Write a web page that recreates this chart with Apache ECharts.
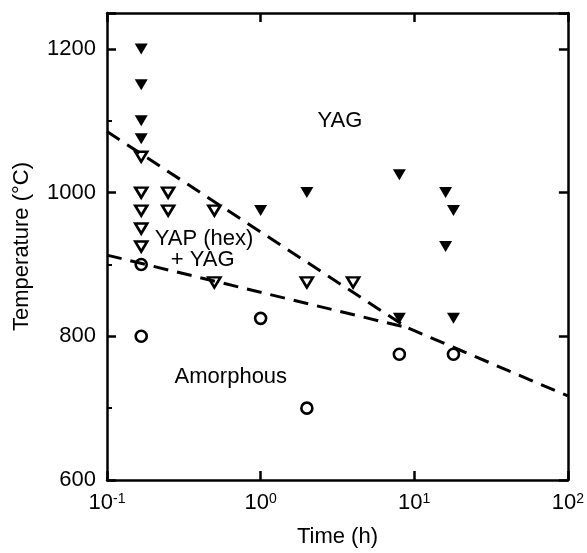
<!DOCTYPE html>
<html>
<head>
<meta charset="utf-8" />
<title>Temperature vs time</title>
<script src="https://cdn.jsdelivr.net/npm/echarts@6/dist/echarts.min.js"></script>
<style>
  html, body { margin: 0; padding: 0; background: #fff; }
  #chart { width: 587px; height: 553px; }
</style>
</head>
<body>
<div id="chart"></div>
<script>
// YAG (filled down triangles)
var yagTime = [0.167, 0.167, 0.167, 0.167, 1, 2, 8, 8, 16, 16, 18, 18];
var yagTemp = [1200, 1150, 1100, 1075, 975, 1000, 1025, 825, 1000, 925, 975, 825];
// YAP (hex) + YAG (open down triangles)
var yapTime = [0.167, 0.167, 0.167, 0.167, 0.167, 0.25, 0.25, 0.5, 0.5, 2, 4];
var yapTemp = [1050, 1000, 975, 950, 925, 1000, 975, 975, 875, 875, 875];
// amorphous (open circles)
var amoTime = [0.167, 0.167, 1, 2, 8, 18];
var amoTemp = [900, 800, 825, 700, 775, 775];
// dashed boundaries
var upperTime = [0.1, 9, 100];
var upperTemp = [1085, 812, 717];
var lowerTime = [0.1, 9];
var lowerTemp = [913, 812];
// region labels
var annoText = ['YAG', 'YAP (hex)', '+ YAG', 'Amorphous'];
var annoTime = [3.28, 0.428, 0.42, 0.64];
var annoTemp = [1100, 935, 906, 743];

var xTicks = [0.1, 1, 10, 100];
var yTicks = [600, 800, 1000, 1200];

function pairs(xs, ys) {
  return xs.map(function (x, i) { return [x, ys[i]]; });
}

var font = 'Liberation Sans';
var ink = '#000';

var chart = echarts.init(document.getElementById('chart'));
chart.setOption({
  backgroundColor: '#fff',
  animation: false,
  textStyle: { fontFamily: font, color: ink },
  grid: { left: 107, right: 19, top: 13, bottom: 71 },
  xAxis: [{
    type: 'log', logBase: 10, min: xTicks[0], max: xTicks[xTicks.length - 1],
    position: 'bottom',
    name: 'Time (h)', nameLocation: 'middle', nameGap: 46,
    nameTextStyle: { fontSize: 22, fontFamily: font, color: ink },
    axisLine: { lineStyle: { color: ink, width: 2.5 } },
    axisTick: { inside: true, length: 9, lineStyle: { color: ink, width: 2.5 } },
    splitLine: { show: false },
    axisLabel: {
      margin: 12, color: ink,
      formatter: function (v) {
        return '{b|10}{s|' + Math.round(Math.log10(v)) + '}';
      },
      rich: {
        b: { fontSize: 22, fontFamily: font, color: ink },
        s: { fontSize: 14, fontFamily: font, color: ink, verticalAlign: 'top' }
      }
    }
  }, {
    type: 'log', logBase: 10, min: xTicks[0], max: xTicks[xTicks.length - 1],
    position: 'top',
    axisLine: { lineStyle: { color: ink, width: 2.5 } },
    axisTick: { inside: true, length: 9, lineStyle: { color: ink, width: 2.5 } },
    axisLabel: { show: false },
    splitLine: { show: false }
  }],
  yAxis: [{
    type: 'value', min: yTicks[0], max: 1250, interval: 200,
    position: 'left',
    name: 'Temperature (\u00B0C)', nameLocation: 'middle', nameGap: 74,
    nameTextStyle: { fontSize: 22, fontFamily: font, color: ink },
    axisLine: { show: true, lineStyle: { color: ink, width: 2.5 } },
    axisTick: { show: true, inside: true, length: 9, lineStyle: { color: ink, width: 2.5 } },
    minorTick: { show: true, splitNumber: 2, length: 5, lineStyle: { color: ink, width: 2 } },
    splitLine: { show: false },
    axisLabel: {
      margin: 11, fontSize: 22, color: ink, showMaxLabel: false,
      formatter: function (v) { return yTicks.indexOf(v) >= 0 ? String(v) : ''; }
    }
  }, {
    type: 'value', min: yTicks[0], max: 1250, interval: 200,
    position: 'right',
    axisLine: { show: true, lineStyle: { color: ink, width: 2.5 } },
    axisTick: { show: true, inside: true, length: 9, lineStyle: { color: ink, width: 2.5 } },
    axisLabel: { show: false },
    splitLine: { show: false }
  }],
  series: [{
    name: 'upper', type: 'line', data: pairs(upperTime, upperTemp),
    symbol: 'none', silent: true, z: 1,
    lineStyle: { color: ink, width: 3, type: [15, 9] }
  }, {
    name: 'lower', type: 'line', data: pairs(lowerTime, lowerTemp),
    symbol: 'none', silent: true, z: 1,
    lineStyle: { color: ink, width: 3, type: [15, 9] }
  }, {
    name: 'YAG', type: 'scatter', data: pairs(yagTime, yagTemp),
    symbol: 'triangle', symbolRotate: 180, symbolSize: [13, 11], z: 3,
    itemStyle: { color: ink, opacity: 1 }
  }, {
    name: 'YAP (hex) + YAG', type: 'scatter', data: pairs(yapTime, yapTemp),
    symbol: 'triangle', symbolRotate: 180, symbolSize: [12, 10], z: 3,
    itemStyle: { color: 'rgba(0,0,0,0)', borderColor: ink, borderWidth: 2.6, opacity: 1 }
  }, {
    name: 'Amorphous', type: 'scatter', data: pairs(amoTime, amoTemp),
    symbol: 'circle', symbolSize: 11, z: 3,
    itemStyle: { color: 'rgba(0,0,0,0)', borderColor: ink, borderWidth: 2.6, opacity: 1 }
  }, {
    name: 'labels', type: 'scatter', symbolSize: 0, silent: true, z: 4,
    itemStyle: { opacity: 1 },
    data: annoText.map(function (t, i) {
      return { name: t, value: [annoTime[i], annoTemp[i]] };
    }),
    label: {
      show: true, position: 'inside', formatter: '{b}', opacity: 1,
      fontSize: 22, fontFamily: font, color: ink
    }
  }]
});
</script>
</body>
</html>
